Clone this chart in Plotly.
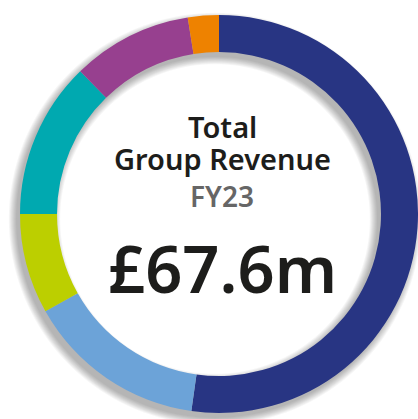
import math
import plotly.graph_objects as go

# ---- data ----
segments = ["Segment A", "Segment B", "Segment C", "Segment D", "Segment E", "Segment F"]
revenue_m = [35.3, 9.9, 5.5, 8.6, 6.6, 1.7]
colors = ["#283583", "#6CA3D8", "#BCCF00", "#00A9B0", "#97408F", "#EE8200"]
title_lines = ["Total", "Group Revenue"]
period_label = "FY23"
total_label = "£67.6m"

W, H = 418, 419
CX, CY = 219, 214      # pixel centre of the donut
R_OUT = 199
R_IN = 162


def px2paper(x, y):
    return x / W, 1 - y / H


def ring_path(cx, cy, ro, ri, n=160):
    pts = []
    for i in range(n):
        a = 2 * math.pi * i / n
        x, y = px2paper(cx + ro * math.cos(a), cy + ro * math.sin(a))
        pts.append(f"{'M' if i == 0 else 'L'}{x:.5f},{y:.5f}")
    pts.append("Z")
    for i in range(n):
        a = -2 * math.pi * i / n
        x, y = px2paper(cx + ri * math.cos(a), cy + ri * math.sin(a))
        pts.append(f"{'M' if i == 0 else 'L'}{x:.5f},{y:.5f}")
    pts.append("Z")
    return " ".join(pts)


fig = go.Figure()
fig.add_trace(go.Pie(
    labels=segments,
    values=revenue_m,
    marker=dict(colors=colors, line=dict(width=0)),
    hole=R_IN / R_OUT,
    sort=False,
    direction="clockwise",
    rotation=0,
    textinfo="none",
    hoverinfo="label+value",
    showlegend=False,
    domain=dict(x=[(CX - R_OUT) / W, 1],
                y=[1 - (CY + R_OUT) / H, 1 - (CY - R_OUT) / H]),
))

# soft drop shadow (decorative)
shapes = []
sx, sy = CX - 4, CY + 5
for s in range(0, 9):
    shapes.append(dict(type="path", xref="paper", yref="paper", layer="below",
                       path=ring_path(sx, sy, R_OUT + s * 0.9, R_IN - s * 0.9),
                       fillcolor="rgba(0,0,0,0.035)", line=dict(width=0)))
fig.update_layout(shapes=shapes)

font_family = "'Noto Sans', 'Open Sans', sans-serif"
ann = []
x0, _ = px2paper(CX + 3, 0)
ann.append(dict(text=title_lines[0], x=x0, y=px2paper(0, 126)[1],
                font=dict(size=29, color="#1d1d1b", family=font_family, weight=600)))
ann.append(dict(text=title_lines[1], x=x0, y=px2paper(0, 158)[1],
                font=dict(size=29, color="#1d1d1b", family=font_family, weight=600)))
ann.append(dict(text=period_label, x=x0, y=px2paper(0, 196)[1],
                font=dict(size=28, color="#666666", family=font_family, weight=600)))
ann.append(dict(text=total_label, x=x0, y=px2paper(0, 268)[1],
                font=dict(size=65, color="#1d1d1b", family=font_family, weight=600)))
for a in ann:
    a.update(xref="paper", yref="paper", xanchor="center", yanchor="middle",
             showarrow=False, borderpad=0)
fig.update_layout(annotations=ann)

fig.update_layout(width=W, height=H, margin=dict(l=0, r=0, t=0, b=0),
                  paper_bgcolor="white", plot_bgcolor="white")
fig.write_html("out.html", config={"displayModeBar": False},
               post_script="document.body.style.margin='0';document.body.style.overflow='hidden';")
